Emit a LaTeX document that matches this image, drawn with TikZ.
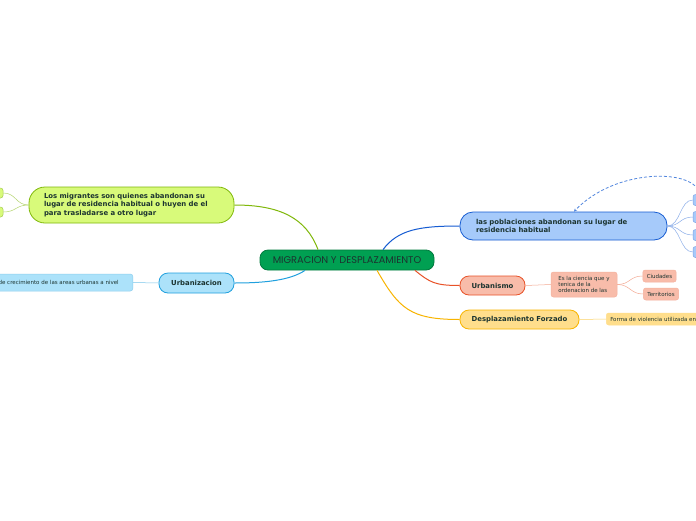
\documentclass[tikz,border=0pt]{standalone}
\usepackage{fontspec}
\setmainfont{DejaVu Sans}
\newfontfamily\titlefont{Poppins}
\usetikzlibrary{arrows.meta,calc}
\definecolor{txtdark}{RGB}{28,52,48}
\definecolor{maingreen}{RGB}{0,160,82}
\definecolor{mainborder}{RGB}{0,122,62}
\definecolor{limefill}{RGB}{216,250,122}
\definecolor{limeline}{RGB}{128,184,10}
\definecolor{skyfill}{RGB}{172,226,250}
\definecolor{skyline}{RGB}{32,160,222}
\definecolor{bluefill}{RGB}{166,202,250}
\definecolor{blueline}{RGB}{22,92,210}
\definecolor{salmonfill}{RGB}{248,188,170}
\definecolor{salmonline}{RGB}{232,82,40}
\definecolor{yellowfill}{RGB}{255,222,140}
\definecolor{yellowline}{RGB}{248,180,0}

\begin{document}
\begin{tikzpicture}[
    x=1pt, y=-1pt,
    topic/.style={rectangle, draw, line width=0.8pt, text=txtdark, inner sep=0pt,
        font=\bfseries\fontsize{6.9}{8.6}\selectfont},
    subtopic/.style={rectangle, draw, line width=0.5pt, rounded corners=2.5pt, text=txtdark,
        inner ysep=0pt, inner xsep=4pt, align=left, font=\fontsize{5.5}{6.4}\selectfont},
    link/.style={line width=1pt},
    twig/.style={line width=0.5pt}
]
\useasboundingbox[fill=white] (0,0) rectangle (696,520);

% Nodes
\node[rectangle, draw=mainborder, fill=maingreen, line width=0.8pt, rounded corners=8pt,
    minimum width=174pt, minimum height=20pt, text=txtdark,
    font=\titlefont\fontsize{9.8}{11}\selectfont] (main) at (347,260) {MIGRACION Y DESPLAZAMIENTO};

\node[topic, draw=limeline, fill=limefill, rounded corners=16pt, minimum height=36pt,
    text width=175pt, inner xsep=15pt, align=left] (migrantes) at (131.5,205)
    {Los migrantes son quienes abandonan su\\lugar de residencia habitual o huyen de el\\para trasladarse a otro lugar};
\node[subtopic, draw=limeline!70, fill=limefill, minimum width=14pt, minimum height=10pt] (lm1) at (-4,193) {};
\node[subtopic, draw=limeline!70, fill=limefill, minimum width=14pt, minimum height=10pt] (lm2) at (-4,212) {};

\node[topic, draw=skyline, fill=skyfill, rounded corners=9pt, minimum width=75pt, minimum height=20pt]
    (urbanizacion) at (196.5,283) {Urbanizacion};
\node[subtopic, draw=skyline!50, fill=skyfill, minimum height=17pt, anchor=east, inner xsep=14pt]
    (crecimiento) at (133,282.5) {de crecimiento de las areas urbanas a nivel};

\node[topic, draw=blueline, fill=bluefill, rounded corners=13pt, minimum height=28pt,
    text width=175pt, inner xsep=16pt, align=left] (poblaciones) at (563.5,226)
    {las poblaciones abandonan su lugar de\\residencia habitual};
\foreach \i/\y in {1/200,2/217,3/235,4/252}
    \node[subtopic, draw=blueline!55, fill=bluefill, minimum width=14pt, minimum height=11pt] (pb\i) at (700,\y) {};

\node[topic, draw=salmonline, fill=salmonfill, rounded corners=9pt, minimum width=65pt, minimum height=19pt]
    (urbanismo) at (492.5,285.5) {Urbanismo};
\node[subtopic, draw=salmonline!45, fill=salmonfill, minimum width=66pt, minimum height=25pt]
    (ciencia) at (584,284.5) {Es la ciencia que y\\tenica de la\\ordenacion de las};
\node[subtopic, draw=salmonline!45, fill=salmonfill, minimum height=12pt] (ciudades) at (659.5,276) {Ciudades};
\node[subtopic, draw=salmonline!45, fill=salmonfill, minimum height=12pt] (territorios) at (661,294) {Territorios};

\node[topic, draw=yellowline, fill=yellowfill, rounded corners=9pt, minimum width=119pt, minimum height=19pt]
    (forzado) at (519.5,319.5) {Desplazamiento Forzado};
\node[subtopic, draw=yellowfill, fill=yellowfill, minimum height=12pt, anchor=west]
    (violencia) at (606,319) {Forma de violencia utilizada en};

% Arrows
\draw[link, limeline] ([xshift=-29pt]main.north) .. controls +(-12,-32) and +(45,0) .. (migrantes.east);
\draw[link, skyline] ([xshift=-42pt]main.south) .. controls +(-15,10) and +(30,0) .. (urbanizacion.east);
\draw[link, blueline] ([xshift=36pt]main.north) .. controls +(15,-20) and +(-40,0) .. (poblaciones.west);
\draw[link, salmonline] ([xshift=68pt]main.south) .. controls +(15,12) and +(-25,0) .. (urbanismo.west);
\draw[link, yellowline] ([xshift=30pt]main.south) .. controls +(22,38) and +(-50,0) .. (forzado.west);

\foreach \n in {lm1,lm2}
    \draw[twig, limeline!60] (migrantes.west) .. controls +(-13,0) and +(13,0) .. (\n.east);
\draw[twig, skyline!60] (urbanizacion.west) -- (crecimiento.east);
\foreach \i in {1,...,4}
    \draw[twig, blueline!50] (poblaciones.east) .. controls +(13,0) and +(-13,0) .. (pb\i.west);
\draw[twig, salmonline!50] (urbanismo.east) -- (ciencia.west);
\foreach \n in {ciudades,territorios}
    \draw[twig, salmonline!50] (ciencia.east) .. controls +(13,0) and +(-13,0) .. (\n.west);
\draw[twig, yellowline!60] (forzado.east) -- (violencia.west);

\draw[line width=0.8pt, blueline!75, dash pattern=on 3pt off 2pt, -{Stealth[length=3pt,width=3pt]}]
    (pb1.north) .. controls (695,168) and (615,168) .. ([xshift=10.5pt]poblaciones.north);
\end{tikzpicture}
\end{document}
